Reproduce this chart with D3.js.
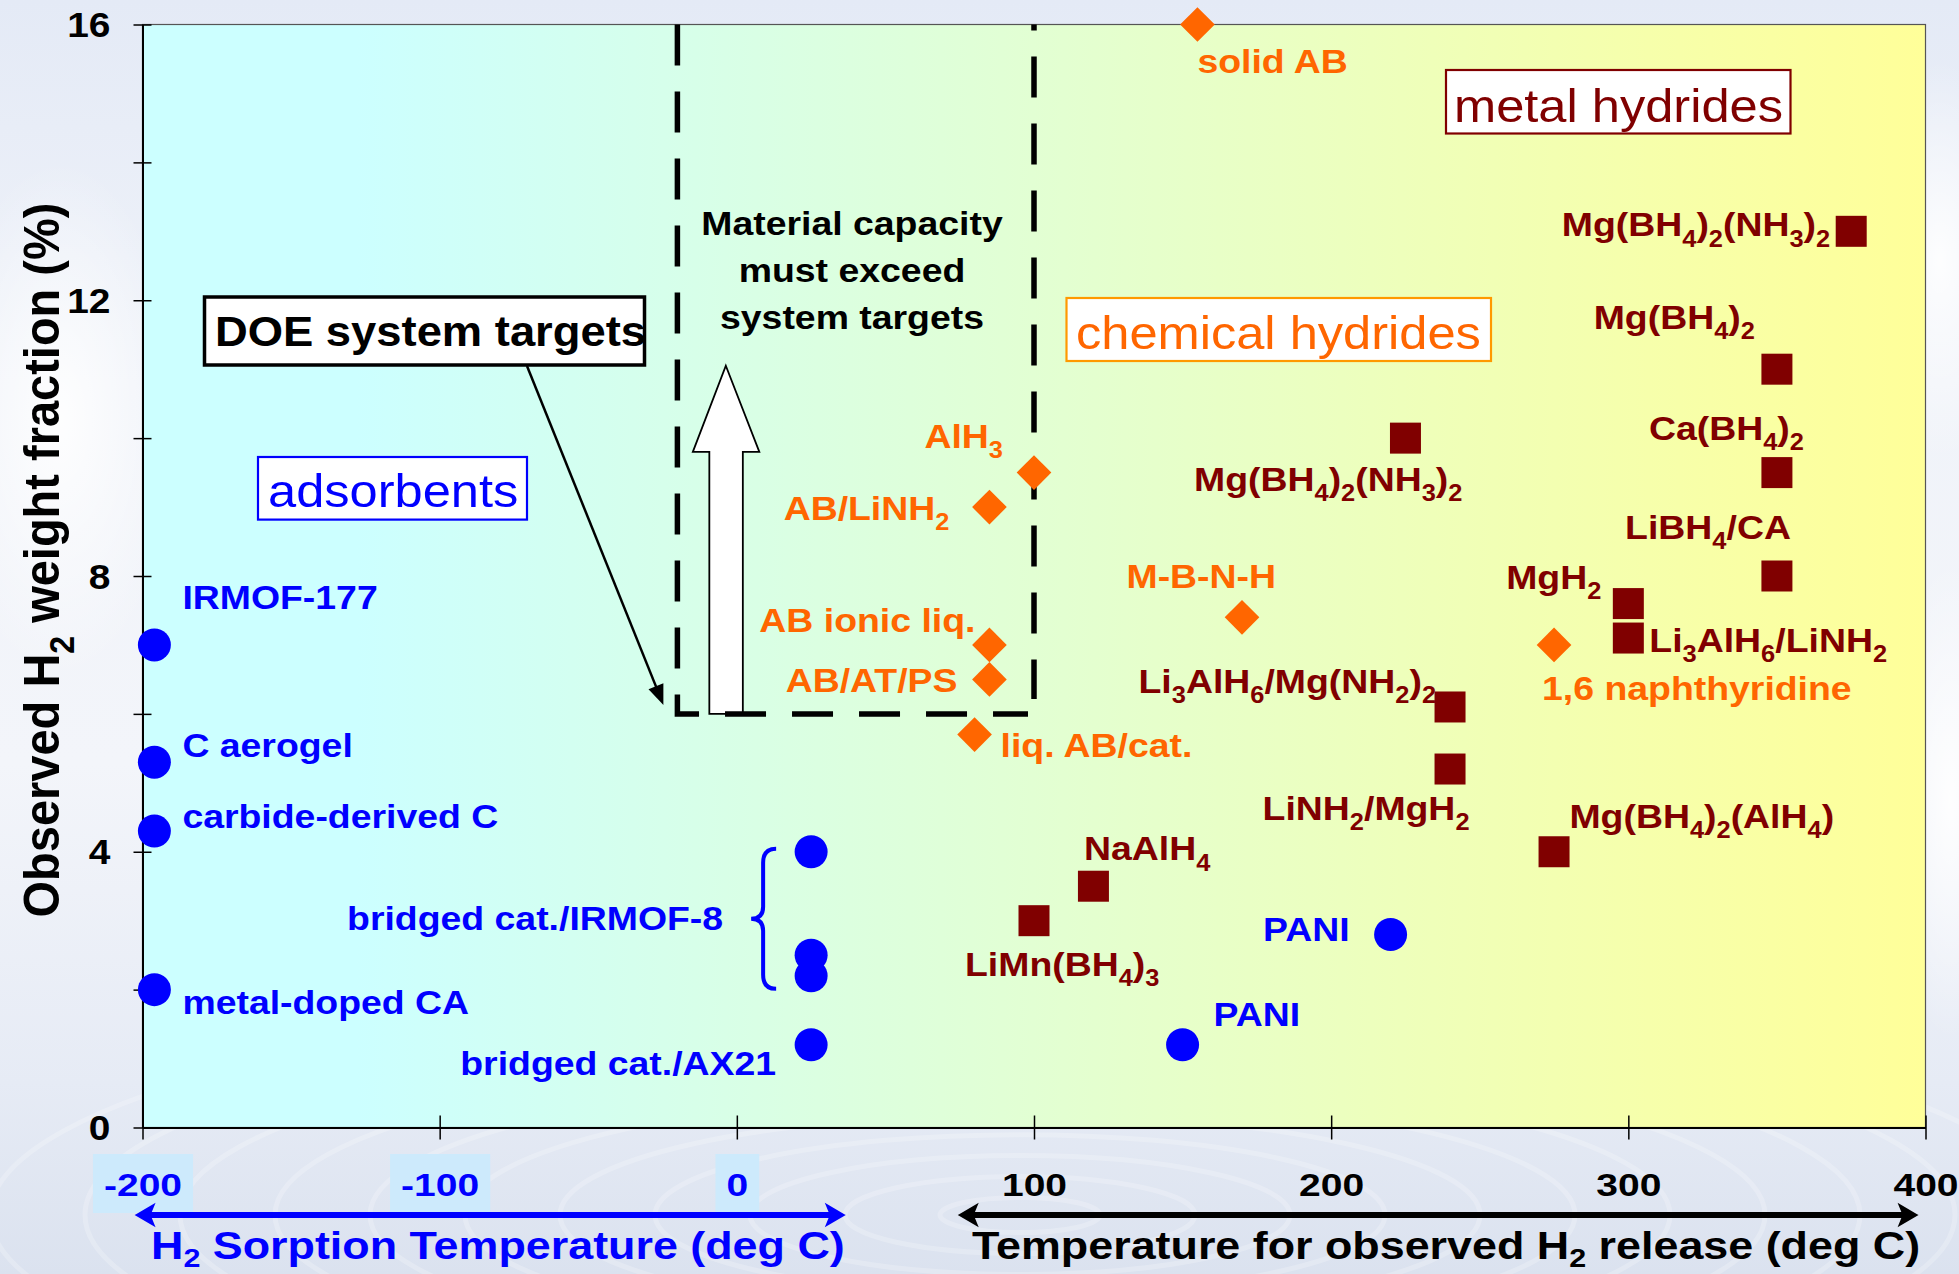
<!DOCTYPE html>
<html><head><meta charset="utf-8">
<script src="https://cdn.jsdelivr.net/npm/d3@7"></script>
<style>
html,body{margin:0;padding:0;background:#eef2f9;overflow:hidden}
svg{display:block}
</style></head><body>
<svg id="chart" width="1959" height="1274"></svg>
<script>
// ---------------- data ----------------
const adsorbentLabels = ["IRMOF-177","C aerogel","carbide-derived C","metal-doped CA","","","","bridged cat./AX21","PANI","PANI"];
const adsorbentTemp   = [-196,-196,-196,-196,25,25,25,25,150,220];
const adsorbentWt     = [7.0,5.3,4.3,2.0,4.0,2.5,2.2,1.2,1.2,2.8];

const chemicalLabels = ["solid AB","AlH_3","AB/LiNH_2","M-B-N-H","AB ionic liq.","AB/AT/PS","liq. AB/cat.","1,6 naphthyridine"];
const chemicalTemp   = [155,100,85,170,85,85,80,275];
const chemicalWt     = [16.0,9.5,9.0,7.4,7.0,6.5,5.7,7.0];

const metalLabels = ["Mg(BH_4)_2(NH_3)_2","Mg(BH_4)_2","Ca(BH_4)_2","LiBH_4/CA","MgH_2","Li_3AlH_6/LiNH_2",
                     "Mg(BH_4)_2(NH_3)_2","Li_3AlH_6/Mg(NH_2)_2","LiNH_2/MgH_2","Mg(BH_4)_2(AlH_4)","NaAlH_4","LiMn(BH_4)_3"];
const metalTemp   = [375,350,350,350,300,300,225,240,240,275,120,100];
const metalWt     = [13.0,11.0,9.5,8.0,7.6,7.1,10.0,6.1,5.2,4.0,3.5,3.0];

const yTicks = [0,2,4,6,8,10,12,14,16];
const xTicks = [-200,-100,0,100,200,300,400];

const groupLabel = "bridged cat./IRMOF-8";   // shared label for the three IRMOF-8 points (indices 4-6)
const targetBox = {t0:-20, t1:100, w0:6, w1:16}; // DOE target region (dashed)
const sorptionRange = [-202, 36];
const releaseRange  = [75, 397];

// ---------------- layout (pixel offsets of labels from their marks) ----------------
const adsorbentLabelPos = [[28,-36,"start"],[28,-5,"start"],[28,-3,"start"],[28,24,"start"],null,null,null,[-35,30,"end"],[31,-19,"start"],[-41,6.5,"end"]];
const chemicalLabelPos  = [[0,48,"start"],[-31,-25,"end"],[-40,12.6,"end"],[34,-29,"end"],[-14,-13,"end"],[-32,13,"end"],[26,22.5,"start"],[-12,55,"start"]];
const metalLabelPos     = [[-21,5,"end"],[-22,-40.6,"end"],[27,-32.6,"end"],[14,-37,"end"],[-27,-14.6,"end"],[21,13.7,"start"],
                           [57,53,"end"],[-14,-14.4,"end"],[19.5,51,"end"],[15.4,-23.7,"start"],[-9.4,-25.8,"start"],[-69,55,"start"]];

const FONT = "'Liberation Sans', Arial, Helvetica, sans-serif";
const BLUE = "#0000ff", ORANGE = "#ff6600", MAROON = "#800000";

const W = 1959, H = 1274;
const svg = d3.select("#chart");
const x = d3.scaleLinear().domain([-200,400]).range([142.5,1925.5]);
const y = d3.scaleLinear().domain([0,16]).range([1127.5,24.5]);

// ---------------- defs ----------------
const defs = svg.append("defs");
const pg = defs.append("linearGradient").attr("id","plotGrad").attr("x1","0").attr("x2","1").attr("y1","0").attr("y2","0");
pg.append("stop").attr("offset","0").attr("stop-color","#ccffff");
pg.append("stop").attr("offset","0.12").attr("stop-color","#ccffff");
pg.append("stop").attr("offset","1").attr("stop-color","#ffff99");
const bg = defs.append("linearGradient").attr("id","bgGrad").attr("x1","0").attr("x2","0").attr("y1","0").attr("y2","1");
[["0","#e4eaf6"],["0.3","#f0f3f9"],["0.6","#f3f5fa"],["0.85","#e6ebf5"],["1","#dbe2ef"]]
  .forEach(([o,c])=>bg.append("stop").attr("offset",o).attr("stop-color",c));
const cloud = defs.append("radialGradient").attr("id","cloud");
cloud.append("stop").attr("offset","0").attr("stop-color","#ffffff").attr("stop-opacity",0.9);
cloud.append("stop").attr("offset","1").attr("stop-color","#ffffff").attr("stop-opacity",0);

// ---------------- background ----------------
svg.append("rect").attr("width",W).attr("height",H).attr("fill","url(#bgGrad)");
[[60,420,120,260],[1940,260,80,200],[1950,800,60,240]].forEach(([cx,cy,rx,ry])=>
  svg.append("ellipse").attr("cx",cx).attr("cy",cy).attr("rx",rx).attr("ry",ry).attr("fill","url(#cloud)"));
const ripples = svg.append("g").attr("fill","none").attr("stroke","#ffffff").attr("stroke-opacity",0.22);
d3.range(80, 1100, 95).forEach(r=>ripples.append("ellipse").attr("cx",1020).attr("cy",1215).attr("rx",r).attr("ry",r*0.22).attr("stroke-width",5));

// ---------------- plot area ----------------
svg.append("rect").attr("x",x(-200)).attr("y",y(16)).attr("width",x(400)-x(-200)).attr("height",y(0)-y(16))
  .attr("fill","url(#plotGrad)").attr("stroke","#555").attr("stroke-width",1.2);

// ---------------- text helper ----------------
function rich(parent, str, px, py, o){
  const g = parent.append("g").attr("transform",`translate(${px},${py}) scale(${o.sx||1},1)${o.rot?` rotate(${o.rot})`:""}`);
  const t = g.append("text").attr("text-anchor",o.anchor||"start").attr("font-family",FONT)
    .attr("font-size",o.size).attr("font-weight",o.weight||"bold").attr("fill",o.color||"#000");
  const segs=[]; let buf="";
  for(let i=0;i<str.length;i++){
    if(str[i]==="_" && i+1<str.length){ if(buf){segs.push([buf,false]);buf="";} segs.push([str[i+1],true]); i++; }
    else buf+=str[i];
  }
  if(buf) segs.push([buf,false]);
  let inSub=false; const off=o.size*(o.subOff||0.3);
  segs.forEach(([s,sub])=>{
    const ts=t.append("tspan").text(s);
    if(sub){ ts.attr("font-size",o.size*0.68); if(!inSub) ts.attr("dy",off); inSub=true; }
    else { if(inSub) ts.attr("dy",-off); inSub=false; }
  });
  return t;
}

// ---------------- axes ----------------
const yAxis = d3.axisLeft(y).tickValues(yTicks).tickSize(9).tickSizeOuter(0).tickPadding(0).tickFormat(()=> "");
const gy = svg.append("g").attr("transform",`translate(${x(-200)},0)`).call(yAxis);
gy.select(".domain").attr("stroke","#000").attr("stroke-width",2);
gy.selectAll(".tick line").attr("x1",9).attr("stroke","#000").attr("stroke-width",1.5);
gy.selectAll(".tick").each(function(d){
  if(d%4===0) rich(d3.select(this), String(d), -32, 12, {size:36, sx:1.08, anchor:"end"});
});

const xAxis = d3.axisBottom(x).tickValues(xTicks).tickSize(12).tickSizeOuter(0).tickFormat(()=> "");
const gx = svg.append("g").attr("transform",`translate(0,${y(0)})`).call(xAxis);
gx.select(".domain").attr("stroke","#000").attr("stroke-width",2);
gx.selectAll(".tick line").attr("y1",-12).attr("stroke","#000").attr("stroke-width",1.5);
gx.selectAll(".tick").each(function(d){
  const g = d3.select(this);
  const neg = d<=0;
  const box = g.append("rect").attr("fill","#cdeafc");
  const t = rich(g, String(d), 0, 68, {size:32, sx:1.22, anchor:"middle", color: neg?BLUE:"#000"});
  if(neg){
    const bw = t.node().getBBox().width*1.22 + 22;
    box.attr("x",-bw/2).attr("y",26.5).attr("width",bw).attr("height",59);
  } else box.remove();
});

// axis titles
rich(svg, "Observed H_2 weight fraction (%)", 59, 560, {size:47, sx:1.08, rot:-90, anchor:"middle"});
rich(svg, "H_2 Sorption Temperature (deg C)", 151, 1259, {size:39, sx:1.15, color:BLUE, subOff:0.2});
rich(svg, "Temperature for observed H_2 release (deg C)", 972, 1259, {size:39, sx:1.15, subOff:0.2});

// bottom double arrows
function dblArrow(x0,x1,yy,color){
  const g = svg.append("g");
  g.append("line").attr("x1",x0+12).attr("x2",x1-12).attr("y1",yy).attr("y2",yy).attr("stroke",color).attr("stroke-width",6);
  g.append("path").attr("d",`M${x0},${yy} L${x0+17},${yy-10} L${x0+13},${yy} L${x0+17},${yy+10} Z`).attr("fill",color).attr("stroke",color).attr("stroke-width",2);
  g.append("path").attr("d",`M${x1},${yy} L${x1-17},${yy-10} L${x1-13},${yy} L${x1-17},${yy+10} Z`).attr("fill",color).attr("stroke",color).attr("stroke-width",2);
}
dblArrow(x(sorptionRange[0]), x(sorptionRange[1]), 1215, BLUE);
dblArrow(x(releaseRange[0]), x(releaseRange[1]), 1215, "#000");

// ---------------- annotations ----------------
// white up arrow
{
  const cx = x(-3.7), base = y(targetBox.w0), tip = y(11.05), hb = y(9.8);
  svg.append("path").attr("d",
    `M${cx},${tip} L${cx+33.5},${hb} L${cx+17},${hb} L${cx+17},${base} L${cx-16.5},${base} L${cx-16.5},${hb} L${cx-33},${hb} Z`)
    .attr("fill","#fff").attr("stroke","#000").attr("stroke-width",1.8);
}
// dashed target region
svg.append("path").attr("d",`M${x(targetBox.t0)},${y(targetBox.w1)} L${x(targetBox.t0)},${y(targetBox.w0)} L${x(targetBox.t1)-6},${y(targetBox.w0)}`)
  .attr("fill","none").attr("stroke","#000").attr("stroke-width",5.5).attr("stroke-dasharray","41,26");
svg.append("line").attr("x1",x(targetBox.t1)).attr("x2",x(targetBox.t1)).attr("y1",y(targetBox.w1)).attr("y2",y(targetBox.w0)-15)
  .attr("stroke","#000").attr("stroke-width",5.5).attr("stroke-dasharray","41,26").attr("stroke-dashoffset",35);

// "Material capacity must exceed system targets"
["Material capacity","must exceed","system targets"].forEach((s,i)=>
  rich(svg, s, 852, 235+i*47, {size:34, sx:1.1, anchor:"middle"}));

// DOE system targets box + leader arrow
svg.append("rect").attr("x",204.5).attr("y",297).attr("width",440).attr("height",68).attr("fill","#fff").attr("stroke","#000").attr("stroke-width",3.5);
rich(svg, "DOE system targets", 215, 346, {size:42, sx:1.08});
{
  const ex = x(targetBox.t0)-14, ey = y(targetBox.w0)-9, sx0 = 527, sy0 = 366;
  const ang = Math.atan2(ey-sy0, ex-sx0);
  svg.append("line").attr("x1",sx0).attr("y1",sy0).attr("x2",ex-10*Math.cos(ang)).attr("y2",ey-10*Math.sin(ang)).attr("stroke","#000").attr("stroke-width",2.5);
  const L=20, Wd=8;
  const bx = ex-L*Math.cos(ang), by = ey-L*Math.sin(ang);
  svg.append("path").attr("d",`M${ex},${ey} L${bx+Wd*Math.sin(ang)},${by-Wd*Math.cos(ang)} L${bx-Wd*Math.sin(ang)},${by+Wd*Math.cos(ang)} Z`).attr("fill","#000");
}

// category boxes
function catBox(x0,y0,w,h,stroke,label,tx,ty,color){
  svg.append("rect").attr("x",x0).attr("y",y0).attr("width",w).attr("height",h).attr("fill","#fff").attr("stroke",stroke).attr("stroke-width",2.2);
  rich(svg, label, tx, ty, {size:46, sx:1.1, weight:"normal", color});
}
catBox(258,457,269,62.6,BLUE,"adsorbents",268,507,BLUE);
catBox(1066.5,298,424.5,63,"#ff9900","chemical hydrides",1076,349,ORANGE);
catBox(1446,70,344.5,63.5,MAROON,"metal hydrides",1454,121.6,MAROON);

// brace for IRMOF-8 group
{
  const top = y(adsorbentWt[4])-3, bot = y(adsorbentWt[6])+13, mid = (top+bot)/2;
  const xr = x(25)-35, xm = xr-13, xt = xr-25;
  svg.append("path").attr("d",
    `M${xr},${top} Q${xm},${top} ${xm},${top+14} L${xm},${mid-12} Q${xm},${mid} ${xt},${mid} Q${xm},${mid} ${xm},${mid+12} L${xm},${bot-14} Q${xm},${bot} ${xr},${bot}`)
    .attr("fill","none").attr("stroke",BLUE).attr("stroke-width",4);
  rich(svg, groupLabel, x(25)-88, mid+11, {size:34, sx:1.1, anchor:"end", color:BLUE});
}

// ---------------- marks ----------------
const marks = svg.append("g");
const circ = d3.symbol(d3.symbolCircle, Math.PI*16.5*16.5)();
const sq   = d3.symbol(d3.symbolSquare, 31*31)();
const dia  = d3.symbol(d3.symbolSquare, 24.5*24.5)();

adsorbentTemp.forEach((t,i)=>{
  marks.append("path").attr("d",circ).attr("transform",`translate(${x(t)},${y(adsorbentWt[i])})`).attr("fill",BLUE);
});
chemicalTemp.forEach((t,i)=>{
  marks.append("path").attr("d",dia).attr("transform",`translate(${x(t)},${y(chemicalWt[i])}) rotate(45)`).attr("fill",ORANGE);
});
metalTemp.forEach((t,i)=>{
  marks.append("path").attr("d",sq).attr("transform",`translate(${x(t)},${y(metalWt[i])})`).attr("fill",MAROON);
});

// ---------------- point labels ----------------
function labelSeries(labels, temps, wts, pos, color){
  labels.forEach((s,i)=>{
    if(!s || !pos[i]) return;
    const [dx,dy,anchor] = pos[i];
    rich(svg, s, x(temps[i])+dx, y(wts[i])+dy, {size:34, sx:1.1, anchor, color});
  });
}
labelSeries(adsorbentLabels, adsorbentTemp, adsorbentWt, adsorbentLabelPos, BLUE);
labelSeries(chemicalLabels, chemicalTemp, chemicalWt, chemicalLabelPos, ORANGE);
labelSeries(metalLabels, metalTemp, metalWt, metalLabelPos, MAROON);
</script>
</body></html>
